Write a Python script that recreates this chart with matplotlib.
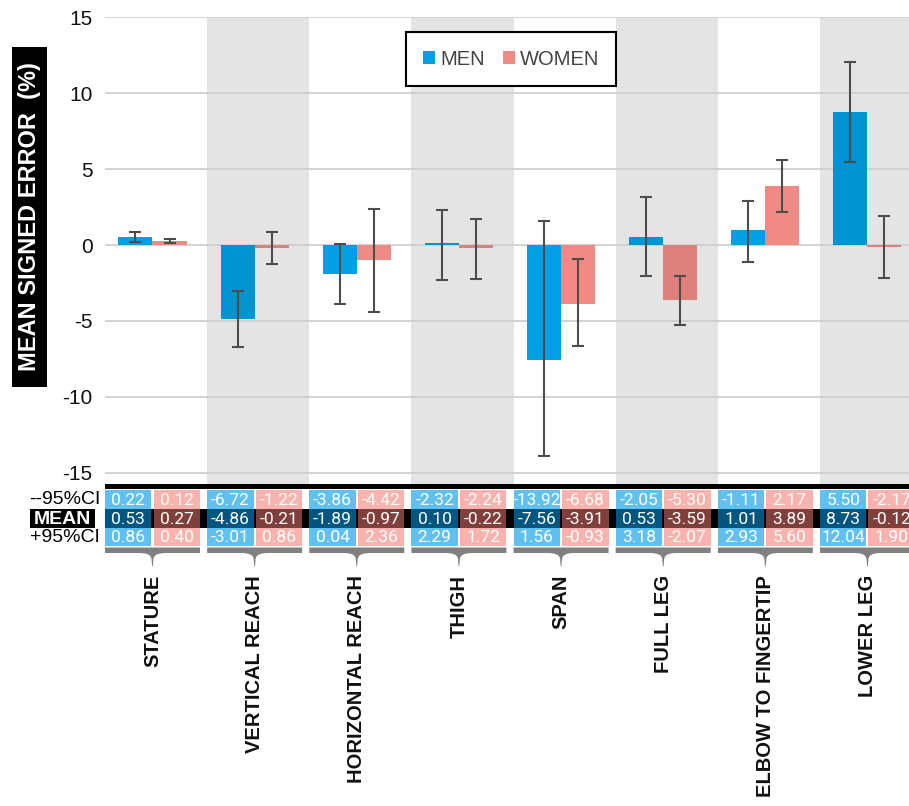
"""Mean signed error of body measurements, men vs women, with CI table."""

import matplotlib.pyplot as plt
from matplotlib.patches import Rectangle, PathPatch
from matplotlib.path import Path

plt.rcParams["font.family"] = ["Liberation Sans", "DejaVu Sans"]
plt.rcParams["axes.unicode_minus"] = False

categories = ["STATURE", "VERTICAL REACH", "HORIZONTAL REACH", "THIGH",
              "SPAN", "FULL LEG", "ELBOW TO FINGERTIP", "LOWER LEG"]
men_lo = [0.22, -6.72, -3.86, -2.32, -13.92, -2.05, -1.11, 5.50]
men_mean = [0.53, -4.86, -1.89, 0.10, -7.56, 0.53, 1.01, 8.73]
men_hi = [0.86, -3.01, 0.04, 2.29, 1.56, 3.18, 2.93, 12.04]
women_lo = [0.12, -1.22, -4.42, -2.24, -6.68, -5.30, 2.17, -2.17]
women_mean = [0.27, -0.21, -0.97, -0.22, -3.91, -3.59, 3.89, -0.12]
women_hi = [0.40, 0.86, 2.36, 1.72, -0.93, -2.07, 5.60, 1.90]

MEN = "#009fe3"
WOMEN = "#f18a84"
MEN_LIGHT = "#60c1f1"
WOMEN_LIGHT = "#f8b3ae"
MEN_DARK = "#00567f"
WOMEN_DARK = "#7f403c"
BAND = "#e4e4e4"
ERR = "#4d4d4d"

W, H = 909, 806


def fx(px):
    return px / W


def fy(py):
    return 1 - py / H


def darken(hex_color, factor):
    r, g, b = (int(hex_color[i:i + 2], 16) for i in (1, 3, 5))
    return (r * factor / 255, g * factor / 255, b * factor / 255)


def brace(c, left, right, top, bot, tip):
    verts = [(left, top), (right, top), (right, bot), (c + 0.15, bot),
             (c + 0.04, bot), (c + 0.008, bot + 2), (c + 0.008, bot + 8),
             (c + 0.003, tip), (c - 0.003, tip), (c - 0.008, bot + 8),
             (c - 0.008, bot + 2), (c - 0.04, bot), (c - 0.15, bot),
             (left, bot), (left, top)]
    codes = [Path.MOVETO, Path.LINETO, Path.LINETO, Path.LINETO,
             Path.CURVE4, Path.CURVE4, Path.CURVE4,
             Path.LINETO, Path.LINETO, Path.LINETO,
             Path.CURVE4, Path.CURVE4, Path.CURVE4,
             Path.LINETO, Path.CLOSEPOLY]
    return Path(verts, codes)


fig = plt.figure(figsize=(W / 100, H / 100), dpi=100)
ax = fig.add_axes([fx(105), fy(484), fx(909) - fx(105), fy(16.5) - fy(484)])
ax_t = fig.add_axes([fx(105), 0, fx(909) - fx(105), fy(484)], sharex=ax)

n = len(categories)
centers = [i - 0.035 for i in range(n)]
bw = 0.333
band_factor = 236 / 255

for i in range(n):
    if i % 2 == 1:
        ax.axvspan(i - 0.5, i + 0.5, color=BAND, zorder=0, lw=0)

men_colors = [darken(MEN, band_factor) if i % 2 else MEN for i in range(n)]
women_colors = [darken(WOMEN, band_factor) if i % 2 else WOMEN for i in range(n)]
men_x = [c - bw / 2 for c in centers]
women_x = [c + bw / 2 for c in centers]
men_bars = ax.bar(men_x, men_mean, width=bw, color=men_colors, zorder=2, lw=0)
women_bars = ax.bar(women_x, women_mean, width=bw, color=women_colors, zorder=2, lw=0)

for xs, m, lo, hi in ((men_x, men_mean, men_lo, men_hi),
                      (women_x, women_mean, women_lo, women_hi)):
    yerr = [[a - b for a, b in zip(m, lo)], [b - a for a, b in zip(m, hi)]]
    ax.errorbar(xs, m, yerr=yerr, fmt="none", ecolor=ERR, elinewidth=1.5,
                capsize=4, capthick=1.5, zorder=3)

ax.set_xlim(-0.5, -0.5 + 804 / 102.14)
ax.set_ylim(-15.74, 15.05)
ax.set_yticks(range(-15, 16, 5))
ax.yaxis.grid(True, color="#cccccc", lw=1.2)
ax.set_axisbelow(True)
ax.tick_params(axis="y", length=0, pad=9, labelsize=15, labelcolor="#111111")
ax.tick_params(axis="x", length=0, labelbottom=False)
for s in ax.spines.values():
    s.set_visible(False)

leg = ax.legend(handles=[men_bars, women_bars], labels=["MEN", "WOMEN"],
                loc="upper center", bbox_to_anchor=(0.505, 0.966), ncol=2,
                frameon=True, fancybox=False, edgecolor="black", framealpha=1,
                fontsize=14.5, handlelength=0.6, handleheight=0.6,
                handletextpad=0.25, columnspacing=0.9, borderpad=0.85,
                borderaxespad=0)
leg.get_frame().set_linewidth(1.5)
for t in leg.get_texts():
    t.set_color("#444444")

# Table below the bars
ax_t.set_ylim(H, 484)
ax_t.axis("off")
ax_t.axhspan(484, 489.5, color="black", lw=0)
ax_t.axhspan(509.3, 528.3, color="black", lw=0)

rows = [(490, 509.3, men_lo, women_lo, MEN_LIGHT, WOMEN_LIGHT),
        (509.3, 528.3, men_mean, women_mean, MEN_DARK, WOMEN_DARK),
        (528.3, 546, men_hi, women_hi, MEN_LIGHT, WOMEN_LIGHT)]
cw = 0.455
men_cx = [c - 0.01 - cw / 2 for c in centers]
women_cx = [c + 0.01 + cw / 2 for c in centers]
for top, bot, mv, wv, mc, wc in rows:
    ax_t.bar(men_cx, bot - top, bottom=top, width=cw, color=mc, lw=0)
    ax_t.bar(women_cx, bot - top, bottom=top, width=cw, color=wc, lw=0)
    for xs, vals in ((men_cx, mv), (women_cx, wv)):
        for x, v in zip(xs, vals):
            ax_t.text(x, (top + bot) / 2 + 0.5, f"{v:.2f}", ha="center",
                      va="center", color="white", fontsize=12.5,
                      family=["Roboto", "DejaVu Sans"], fontweight="normal",
                      clip_on=True)

for c, name in zip(centers, categories):
    left, right = c - 0.01 - cw, c + 0.01 + cw
    ax_t.add_patch(PathPatch(brace(c, left, right, 547.5, 553, 566.5),
                             facecolor="#808080", edgecolor="none"))
    ax_t.text(c, 575, name, rotation=90, ha="center", va="top",
              fontsize=14.5, fontweight="bold", color="#111111")

# Row labels
fig.text(fx(100), fy(500), "--95%CI", ha="right", va="center", fontsize=14)
fig.text(fx(100), fy(537), "+95%CI", ha="right", va="center", fontsize=14)
fig.patches.append(Rectangle((fx(30), fy(528.3)), fx(95) - fx(30),
                             fy(509.3) - fy(528.3), transform=fig.transFigure,
                             facecolor="black", edgecolor="none"))
fig.text(fx(62.5), fy(519), "MEAN", ha="center", va="center", fontsize=14,
         fontweight="bold", color="white")

# Y axis label in black box
fig.patches.append(Rectangle((fx(12), fy(387)), fx(47) - fx(12),
                             fy(47) - fy(387), transform=fig.transFigure,
                             facecolor="black", edgecolor="none"))
fig.text(fx(30), fy(217), "MEAN SIGNED ERROR  (%)", rotation=90, ha="center",
         va="center", fontsize=17, fontweight="bold", color="white")

fig.savefig("out.png", dpi=100)
